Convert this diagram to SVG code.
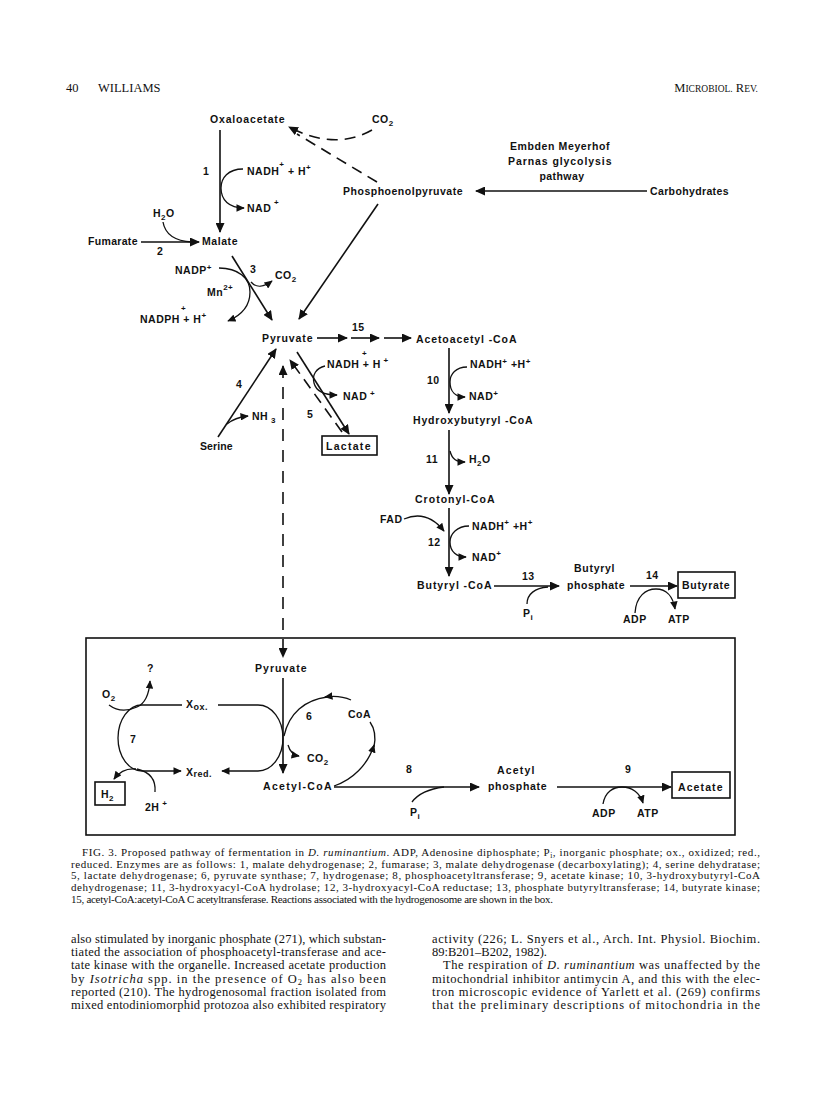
<svg xmlns="http://www.w3.org/2000/svg" width="816" height="1103" viewBox="0 0 816 1103">
<style>
.l{font-family:"Liberation Sans",Arial,sans-serif;font-weight:bold;font-size:10.5px;fill:#111;letter-spacing:0.5px}
.sm{font-size:8px}
.ln{fill:none;stroke:#111;stroke-width:1.6}
.th{stroke-width:1.3}
.ds{stroke-dasharray:11 7}
.bx{fill:#fff;stroke:#111;stroke-width:1.6}
.hd{font-family:"Liberation Serif","Times New Roman",serif;font-size:12.5px;fill:#111}
.cap{font-family:"Liberation Serif","Times New Roman",serif;font-size:11px;fill:#111}
.bd{font-family:"Liberation Serif","Times New Roman",serif;font-size:12.5px;fill:#111}
</style>
<defs>
<marker id="ah" viewBox="0 0 10 9" refX="9" refY="4.5" markerWidth="10" markerHeight="9" markerUnits="userSpaceOnUse" orient="auto-start-reverse"><path d="M0,0 L10,4.5 L0,9 z" fill="#111"/></marker>
<marker id="as" viewBox="0 0 10 9" refX="9" refY="4.5" markerWidth="8.5" markerHeight="7.5" markerUnits="userSpaceOnUse" orient="auto"><path d="M0,0 L10,4.5 L0,9 z" fill="#111"/></marker>
</defs>
<rect width="816" height="1103" fill="#fff"/>

<g id="header">
<text class="hd" x="66" y="92">40</text>
<text class="hd" x="98" y="92">WILLIAMS</text>
<text class="hd" x="758" y="92" text-anchor="end">M<tspan font-size="9.5">ICROBIOL.</tspan> R<tspan font-size="9.5">EV.</tspan></text>
</g>

<g id="connectors">
<path class="ln ds" d="M372,130 Q335,151 289,127" marker-end="url(#ah)"/>
<path class="ln ds" d="M377,182 L297,134"/>
<path class="ln" d="M220,130 L220,232" marker-end="url(#ah)"/>
<path class="ln th" d="M243,169 C228,169 221,178 221,188 C221,200 229,208 244,208" marker-end="url(#as)"/>
<path class="ln th" d="M163,222 C165,234 175,241 192,242"/>
<path class="ln" d="M141,242 L199,242" marker-end="url(#ah)"/>
<path class="ln" d="M232,256 L272,320" marker-end="url(#ah)"/>
<path class="ln th" d="M251,282 C256,288 264,287 272,281" marker-end="url(#as)"/>
<path class="ln th" d="M219,268 C238,268 250,278 250,292 C250,306 242,315 228,321" marker-end="url(#as)"/>
<path class="ln" d="M647,191 L476,191" marker-end="url(#ah)"/>
<path class="ln" d="M378,204 L299,319" marker-end="url(#ah)"/>
<path class="ln" d="M317,338 L347,338" marker-end="url(#ah)"/>
<path class="ln" d="M351,338 L379,338" marker-end="url(#ah)"/>
<path class="ln" d="M384,338 L411,338" marker-end="url(#ah)"/>
<path class="ln" d="M449,348 L449,413" marker-end="url(#ah)"/>
<path class="ln th" d="M467,367 C456,367 450,374 450,382 C450,392 456,397 465,397" marker-end="url(#as)"/>
<path class="ln" d="M449,430 L449,494" marker-end="url(#ah)"/>
<path class="ln th" d="M450,451 C452,459 456,462 465,462" marker-end="url(#as)"/>
<path class="ln" d="M449,508 L449,576" marker-end="url(#ah)"/>
<path class="ln th" d="M404,519 C418,513 432,516 444,531" marker-end="url(#as)"/>
<path class="ln th" d="M469,526 C457,526 450,534 450,542 C450,552 457,557 466,557" marker-end="url(#as)"/>
<path class="ln" d="M494,586 L559,586" marker-end="url(#ah)"/>
<path class="ln th" d="M527,604 C527,594 535,588 548,587"/>
<path class="ln" d="M630,586 L677,586" marker-end="url(#ah)"/>
<path class="ln th" d="M635,613 C636,596 646,589 656,589 C666,589 673,596 675,609" marker-end="url(#as)"/>
<path class="ln" d="M297,352 L349,434" marker-end="url(#ah)"/>
<path class="ln ds" d="M342,432 L290,360" marker-end="url(#ah)"/>
<path class="ln th" d="M325,366 C316,368 312,375 314,383 C316,391 325,395 337,395" marker-end="url(#as)"/>
<path class="ln" d="M218,437 L276,349" marker-end="url(#ah)"/>
<path class="ln th" d="M227,424 C233,419 239,417 248,416" marker-end="url(#as)"/>
<path class="ln" d="M283,366 L283,657" stroke-dasharray="12 9" marker-start="url(#ah)" marker-end="url(#ah)"/>
<path class="ln" d="M283,678 L283,773" marker-end="url(#ah)"/>
<path class="ln th" d="M182,705 L142,705 A24,33 0 0 0 142,771 L181,771" marker-end="url(#as)"/>
<path class="ln th" d="M218,705 L258,705 A25,33 0 0 1 258,771 L222,771" marker-end="url(#as)"/>
<path class="ln th" d="M109,705 C117,711 126,712 137,707"/>
<path class="ln th" d="M137,707 C144,704 149,696 150,681" marker-end="url(#as)"/>
<path class="ln th" d="M136,769 C127,768 120,771 114,779" marker-end="url(#as)"/>
<path class="ln th" d="M155,792 C156,780 150,772 137,769"/>
<path class="ln th" d="M351,700 Q340,695 325,697" marker-end="url(#as)"/>
<path class="ln th" d="M327,697 C305,700 289,713 284,736"/>
<path class="ln th" d="M334,786 C352,780 368,765 374,745" marker-end="url(#as)"/>
<path class="ln th" d="M374,747 C376,737 375,729 370,722"/>
<path class="ln th" d="M288,745 C290,752 293,755 299,756" marker-end="url(#as)"/>
<path class="ln" d="M334,787 L479,787" marker-end="url(#ah)"/>
<path class="ln th" d="M412,802 C418,794 428,789 444,787"/>
<path class="ln" d="M557,787 L671,787" marker-end="url(#ah)"/>
<path class="ln th" d="M603,804 C605,792 613,787 622,787 C632,787 640,793 643,803" marker-end="url(#as)"/>
</g>

<g id="n-oxaloacetate"><text class="l" x="210" y="123" textLength="75">Oxaloacetate</text></g>
<g id="n-co2-top"><text class="l" x="372" y="123">CO<tspan class="sm" dy="3">2</tspan></text></g>
<g id="n-pep"><text class="l" x="343" y="195" textLength="120">Phosphoenolpyruvate</text></g>
<g id="n-carbohydrates"><text class="l" x="650" y="195" textLength="79">Carbohydrates</text></g>
<g id="n-emp">
<text class="l" x="560" y="150" text-anchor="middle" textLength="100">Embden Meyerhof</text>
<text class="l" x="560" y="165" text-anchor="middle" textLength="104">Parnas glycolysis</text>
<text class="l" x="562" y="180" text-anchor="middle" textLength="45">pathway</text>
</g>
<g id="r1">
<text class="l" x="203" y="175">1</text>
<text class="l" x="247" y="175">NADH<tspan class="sm" dy="-8">+</tspan><tspan dy="8"> + H</tspan><tspan class="sm" dy="-5">+</tspan></text>
<text class="l" x="247" y="212">NAD<tspan class="sm" dy="-7"> +</tspan></text>
</g>
<g id="n-h2o"><text class="l" x="153" y="217">H<tspan class="sm" dy="3">2</tspan><tspan dy="-3">O</tspan></text></g>
<g id="n-fumarate"><text class="l" x="88" y="245" textLength="50">Fumarate</text><text class="l" x="157" y="255">2</text></g>
<g id="n-malate"><text class="l" x="202" y="245" textLength="36">Malate</text></g>
<g id="r3">
<text class="l" x="250" y="273">3</text>
<text class="l" x="275" y="279">CO<tspan class="sm" dy="3">2</tspan></text>
<text class="l" x="175" y="274">NADP<tspan class="sm" dy="-4">+</tspan></text>
<text class="l" x="207" y="296">Mn<tspan class="sm" dy="-6">2+</tspan></text>
<text class="l sm" x="181" y="311">+</text>
<text class="l" x="140" y="323">NADPH + H<tspan class="sm" dy="-5">+</tspan></text>
</g>
<g id="n-pyruvate"><text class="l" x="262" y="342" textLength="51">Pyruvate</text></g>
<g id="r15"><text class="l" x="352" y="331">15</text></g>
<g id="n-acetoacetyl"><text class="l" x="416" y="343" textLength="101">Acetoacetyl -CoA</text></g>
<g id="r10">
<text class="l" x="427" y="384">10</text>
<text class="l" x="470" y="368">NADH<tspan class="sm" dy="-4">+</tspan><tspan dy="4"> +H</tspan><tspan class="sm" dy="-4">+</tspan></text>
<text class="l" x="469" y="400">NAD<tspan class="sm" dy="-4">+</tspan></text>
</g>
<g id="n-hydroxybutyryl"><text class="l" x="413" y="424" textLength="120">Hydroxybutyryl -CoA</text></g>
<g id="r11">
<text class="l" x="426" y="463">11</text>
<text class="l" x="469" y="463">H<tspan class="sm" dy="3">2</tspan><tspan dy="-3">O</tspan></text>
</g>
<g id="n-crotonyl"><text class="l" x="415" y="503" textLength="80">Crotonyl-CoA</text></g>
<g id="r12">
<text class="l" x="380" y="523">FAD</text>
<text class="l" x="428" y="546">12</text>
<text class="l" x="472" y="530">NADH<tspan class="sm" dy="-5">+</tspan><tspan dy="5"> +H</tspan><tspan class="sm" dy="-5">+</tspan></text>
<text class="l" x="472" y="561">NAD<tspan class="sm" dy="-5">+</tspan></text>
</g>
<g id="n-butyrylcoa"><text class="l" x="417" y="589" textLength="75">Butyryl -CoA</text></g>
<g id="r13">
<text class="l" x="522" y="580">13</text>
<text class="l" x="523" y="617">P<tspan class="sm" dy="3">i</tspan></text>
</g>
<g id="n-butyrylphosphate">
<text class="l" x="574" y="572" textLength="41">Butyryl</text>
<text class="l" x="567" y="589" textLength="58">phosphate</text>
</g>
<g id="r14">
<text class="l" x="646" y="579">14</text>
<text class="l" x="623" y="623">ADP</text>
<text class="l" x="668" y="623">ATP</text>
</g>
<g id="n-butyrate"><rect class="bx" x="678" y="572" width="57" height="26"/><text class="l" x="682" y="589" textLength="48">Butyrate</text></g>
<g id="n-lactate"><rect class="bx" x="322" y="436" width="55" height="19"/><text class="l" x="326" y="450" textLength="45">Lactate</text></g>
<g id="r5">
<text class="l" x="307" y="418">5</text>
<text class="l sm" x="362" y="356">+</text>
<text class="l" x="327" y="368">NADH  + H<tspan class="sm" dy="-5"> +</tspan></text>
<text class="l" x="343" y="400">NAD<tspan class="sm" dy="-4"> +</tspan></text>
</g>
<g id="n-serine"><text class="l" x="200" y="450" textLength="33">Serine</text></g>
<g id="r4">
<text class="l" x="236" y="388">4</text>
<text class="l" x="252" y="420">NH<tspan class="sm" dy="3"> 3</tspan></text>
</g>

<g id="hydrogenosome">
<rect x="86" y="638" width="649" height="197" fill="none" stroke="#111" stroke-width="1.6"/>
</g>
<g id="n-pyruvate-box"><text class="l" x="255" y="672" textLength="52">Pyruvate</text></g>
<g id="n-acetylcoa"><text class="l" x="263" y="790" textLength="69">Acetyl-CoA</text></g>
<g id="n-xox"><text class="l" x="186" y="708">X<tspan font-size="9" dy="2">ox.</tspan></text></g>
<g id="n-xred"><text class="l" x="186" y="776">X<tspan font-size="9" dy="1">red.</tspan></text></g>
<g id="r7">
<text class="l" x="130" y="743">7</text>
<text class="l" x="102" y="698">O<tspan class="sm" dy="3">2</tspan></text>
<text class="l" x="147" y="672">?</text>
<text class="l" x="145" y="811">2H<tspan class="sm" dy="-5"> +</tspan></text>
</g>
<g id="n-h2"><rect class="bx" x="95" y="782" width="30" height="23"/><text class="l" x="101" y="798">H<tspan class="sm" dy="3">2</tspan></text></g>
<g id="r6">
<text class="l" x="306" y="720">6</text>
<text class="l" x="348" y="718">CoA</text>
<text class="l" x="307" y="762">CO<tspan class="sm" dy="3">2</tspan></text>
</g>
<g id="r8">
<text class="l" x="406" y="773">8</text>
<text class="l" x="410" y="816">P<tspan class="sm" dy="3">i</tspan></text>
</g>
<g id="n-acetylphosphate">
<text class="l" x="497" y="774" textLength="38">Acetyl</text>
<text class="l" x="488" y="790" textLength="59">phosphate</text>
</g>
<g id="r9">
<text class="l" x="625" y="773">9</text>
<text class="l" x="592" y="817">ADP</text>
<text class="l" x="637" y="817">ATP</text>
</g>
<g id="n-acetate"><rect class="bx" x="672" y="772" width="58" height="26"/><text class="l" x="678" y="791" textLength="45">Acetate</text></g>

<g id="caption">
<text class="cap" x="82" y="856" textLength="678">FIG.  3.  Proposed pathway of fermentation in <tspan font-style="italic">D. ruminantium</tspan>. ADP, Adenosine diphosphate; P<tspan font-size="7.5" dy="2">i</tspan><tspan dy="-2">, inorganic phosphate; ox., oxidized; red.,</tspan></text>
<text class="cap" x="71" y="867.7" textLength="689">reduced. Enzymes are as follows: 1, malate dehydrogenase; 2, fumarase; 3, malate dehydrogenase (decarboxylating); 4, serine dehydratase;</text>
<text class="cap" x="71" y="879.4" textLength="689">5, lactate dehydrogenase; 6, pyruvate synthase; 7, hydrogenase; 8, phosphoacetyltransferase; 9, acetate kinase; 10, 3-hydroxybutyryl-CoA</text>
<text class="cap" x="71" y="891.1" textLength="689">dehydrogenase; 11, 3-hydroxyacyl-CoA hydrolase; 12, 3-hydroxyacyl-CoA reductase; 13, phosphate butyryltransferase; 14, butyrate kinase;</text>
<text class="cap" x="71" y="902.8" textLength="482">15, acetyl-CoA:acetyl-CoA C acetyltransferase. Reactions associated with the hydrogenosome are shown in the box.</text>
</g>

<g id="body">
<text class="bd" x="71" y="943" textLength="315">also stimulated by inorganic phosphate (271), which substan-</text>
<text class="bd" x="71" y="956.2" textLength="315">tiated the association of phosphoacetyl-transferase and ace-</text>
<text class="bd" x="71" y="969.4" textLength="315">tate kinase with the organelle. Increased acetate production</text>
<text class="bd" x="71" y="982.6" textLength="315">by <tspan font-style="italic">Isotricha</tspan> spp. in the presence of O<tspan font-size="8.5" dy="2">2</tspan><tspan dy="-2"> has also been</tspan></text>
<text class="bd" x="71" y="995.8" textLength="315">reported (210). The hydrogenosomal fraction isolated from</text>
<text class="bd" x="71" y="1009" textLength="315">mixed entodiniomorphid protozoa also exhibited respiratory</text>
<text class="bd" x="432" y="943" textLength="328">activity (226; L. Snyers et al., Arch. Int. Physiol. Biochim.</text>
<text class="bd" x="432" y="956.2">89:B201–B202, 1982).</text>
<text class="bd" x="443" y="969.4" textLength="317">The respiration of <tspan font-style="italic">D. ruminantium</tspan> was unaffected by the</text>
<text class="bd" x="432" y="982.6" textLength="328">mitochondrial inhibitor antimycin A, and this with the elec-</text>
<text class="bd" x="432" y="995.8" textLength="328">tron microscopic evidence of Yarlett et al. (269) confirms</text>
<text class="bd" x="432" y="1009" textLength="328">that the preliminary descriptions of mitochondria in the</text>
</g>
</svg>
